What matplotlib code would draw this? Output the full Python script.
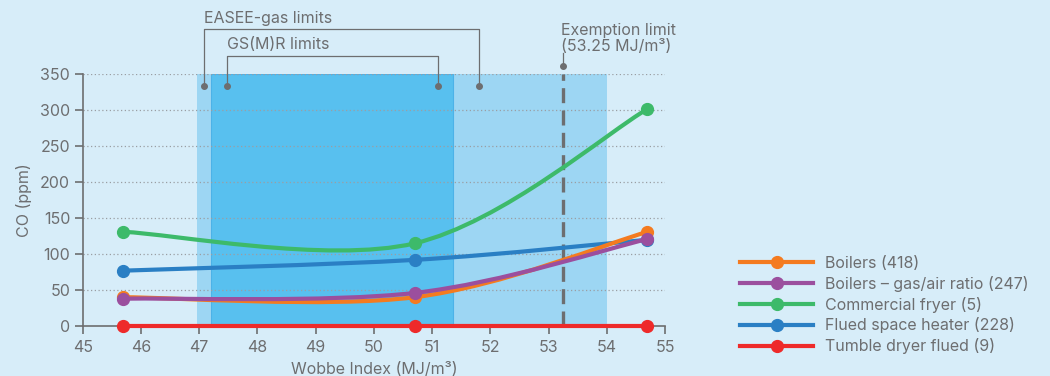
import matplotlib
matplotlib.use("Agg")
import matplotlib.pyplot as plt
from matplotlib.path import Path
from matplotlib.patches import PathPatch
from matplotlib.lines import Line2D

plt.rcParams['font.family'] = ['Inter', 'DejaVu Sans']

# CO readings per appliance group at three test gases
wobbe = [45.7, 50.7, 54.7]
boilers = [40, 40, 131]
boilers_ratio = [38, 46, 121]
fryer = [131, 115, 302]
space_heater = [77, 92, 120]
tumble_dryer = [0, 0, 0]

labels = ["Boilers (418)", "Boilers \u2013 gas/air ratio (247)", "Commercial fryer (5)",
          "Flued space heater (228)", "Tumble dryer flued (9)"]
colors = ["#f47b20", "#9b4f9e", "#3dba6a", "#2a7fc4", "#ee2a2a"]
series = [boilers, boilers_ratio, fryer, space_heater, tumble_dryer]
draw_order = [3, 0, 1, 2, 4]

# shaded Wobbe ranges and bracket end points
easee_band = [46.97, 54.0]
gsmr_band = [47.2, 51.36]
easee_marks = [47.08, 51.81]
gsmr_marks = [47.48, 51.10]
exemption = 53.25

bg = "#d7edf9"
grey = "#6d6e70"
fs = 11.5


def smooth_path(xs, ys):
    # Catmull-Rom style bezier through the points
    pts = list(zip(xs, ys))
    n = len(pts)
    verts = [pts[0]]
    codes = [Path.MOVETO]
    for i in range(n - 1):
        p0 = pts[max(i - 1, 0)]
        p1 = pts[i]
        p2 = pts[i + 1]
        p3 = pts[min(i + 2, n - 1)]
        c1 = (p1[0] + (p2[0] - p0[0]) / 6, p1[1] + (p2[1] - p0[1]) / 6)
        c2 = (p2[0] - (p3[0] - p1[0]) / 6, p2[1] - (p3[1] - p1[1]) / 6)
        verts += [c1, c2, p2]
        codes += [Path.CURVE4] * 3
    return Path(verts, codes)


fig = plt.figure(figsize=(10.5, 3.76), dpi=100, facecolor=bg)
ax = fig.add_axes([0.0788, 0.133, 0.5545, 0.669])
ax.set_facecolor(bg)
ax.set_xlim(45, 55)
ax.set_ylim(0, 350)

ax.axvspan(*easee_band, ymax=1, color="#9dd6f3", zorder=0.2, lw=0)
ax.axvspan(*gsmr_band, ymax=1, facecolor="#58c0ef", edgecolor="#4cb2e8", zorder=0.3, lw=0.8)

ax.set_yticks(range(0, 351, 50))
ax.set_xticks(range(45, 56))
for yv in range(50, 351, 50):
    ax.plot([45, 55], [yv, yv], color="#9a9ea3", lw=0.9, ls=(0, (1, 2)), zorder=0.5)

for s in ["top", "right"]:
    ax.spines[s].set_visible(False)
for s in ["left", "bottom"]:
    ax.spines[s].set_color(grey)
    ax.spines[s].set_linewidth(1.2)
ax.tick_params(colors=grey, labelcolor=grey, labelsize=fs, width=1.2)
ax.tick_params(axis="y", length=6, pad=3)
ax.tick_params(axis="x", length=6, pad=4)

# exemption limit
ax.plot([exemption, exemption], [0, 350], color=grey, lw=2.4, ls=(0, (4.5, 2.2)), zorder=1)
ax.plot([exemption, exemption], [362, 380], color=grey, lw=0.9, clip_on=False)
ax.plot([exemption], [362], "o", color=grey, ms=4, clip_on=False)
ax.text(exemption - 0.03, 400, "Exemption limit\n(53.25 MJ/m\u00b3)", color=grey, fontsize=fs,
        va="center", ha="left", linespacing=1.1)

# limit brackets
for marks, top, txt_y, txt in [(easee_marks, 413, 428, "EASEE-gas limits"),
                               (gsmr_marks, 375.5, 391, "GS(M)R limits")]:
    ax.plot([marks[0], marks[0], marks[1], marks[1]], [334, top, top, 334],
            color=grey, lw=0.9, clip_on=False)
    ax.plot(marks, [334, 334], "o", color=grey, ms=4, clip_on=False, lw=0)
    ax.text(marks[0], txt_y, txt, color=grey, fontsize=fs, va="center", ha="left")

for k, i in enumerate(draw_order):
    path = smooth_path(wobbe, series[i])
    ax.add_patch(PathPatch(path, facecolor="none", edgecolor=colors[i], lw=3,
                           capstyle="round", zorder=3 + k * 0.1, clip_on=False))
    ax.plot(wobbe, series[i], "o", color=colors[i], ms=8.5, zorder=3.05 + k * 0.1, clip_on=False)

handles = [Line2D([0], [0], color=c, lw=3, marker="o", ms=8.5) for c in colors]
fig.legend(handles, labels, loc="upper left", bbox_to_anchor=(740 / 1050, 1 - 256 / 376),
           frameon=False, handlelength=4.6, handletextpad=0.7, labelspacing=0.3,
           fontsize=fs, labelcolor=grey, borderaxespad=0, borderpad=0)

ax.set_ylabel("CO (ppm)", color=grey, fontsize=fs, labelpad=6)
ax.set_xlabel("Wobbe Index (MJ/m\u00b3)", color=grey, fontsize=fs, labelpad=5)

fig.savefig("out.png", dpi=100, facecolor=bg)
